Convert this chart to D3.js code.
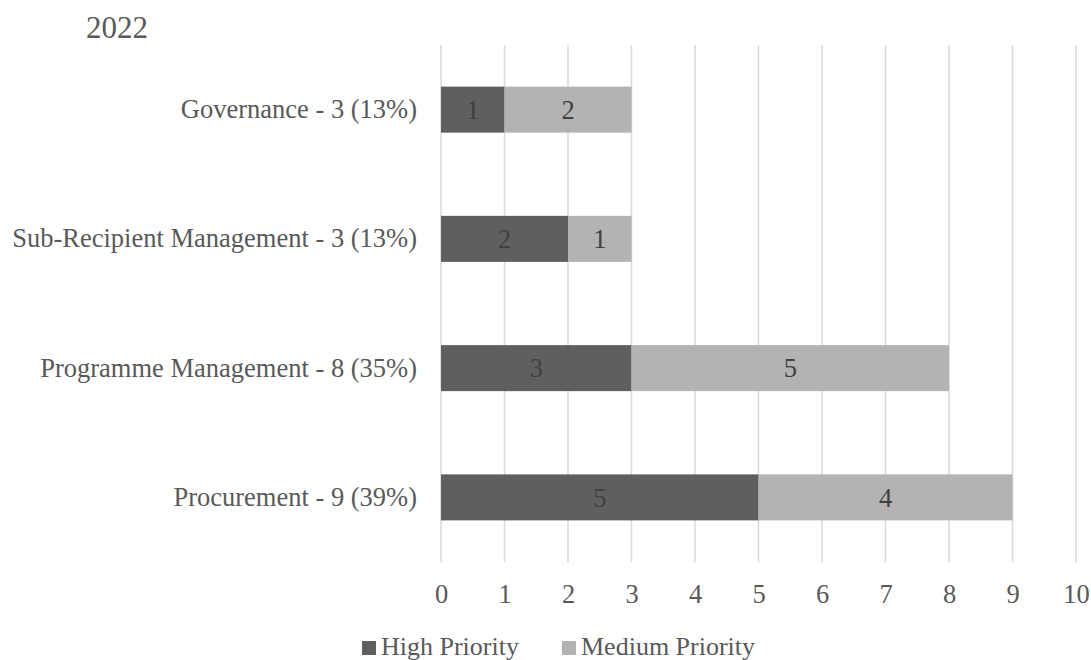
<!DOCTYPE html>
<html>
<head>
<meta charset="utf-8">
<script src="https://cdn.jsdelivr.net/npm/d3@7"></script>
<style>
  html, body { margin: 0; padding: 0; background: #ffffff; }
  svg text { font-family: "Liberation Serif", "Times New Roman", Tinos, serif !important; }
</style>
</head>
<body>
<svg id="chart" width="1091" height="660"></svg>
<script>
// Findings by area, split by priority
const categories = [
  "Governance - 3 (13%)",
  "Sub-Recipient Management - 3 (13%)",
  "Programme Management - 8 (35%)",
  "Procurement - 9 (39%)"
];
const highPriority = [1, 2, 3, 5];
const mediumPriority = [2, 1, 5, 4];
const seriesNames = ["High Priority", "Medium Priority"];
const xTicks = [0, 1, 2, 3, 4, 5, 6, 7, 8, 9, 10];
const chartTitle = "2022";

const colors = ["#5f5f5f", "#b3b3b3"];
const textColor = "#595959";
const labelSize = 26.5;

const svg = d3.select("#chart");
const margin = { left: 441, right: 15, top: 45, bottom: 98 };
const W = 1091, H = 660;

const x = d3.scaleLinear()
  .domain([0, 10])
  .range([margin.left, W - margin.right]);

const y = d3.scaleBand()
  .domain(categories)
  .range([margin.top, H - margin.bottom])
  .paddingInner(0.644)
  .paddingOuter(0.322);

// Stack the two series
const rows = categories.map((c, i) => ({ cat: c, high: highPriority[i], medium: mediumPriority[i] }));
const stacked = d3.stack().keys(["high", "medium"])(rows);

// Vertical gridlines
svg.append("g")
  .selectAll("line")
  .data(xTicks)
  .join("line")
  .attr("x1", d => x(d)).attr("x2", d => x(d))
  .attr("y1", margin.top).attr("y2", H - margin.bottom)
  .attr("stroke", "#d9d9d9")
  .attr("stroke-width", 1.5);

// X axis labels
const xAxis = d3.axisBottom(x).tickValues(xTicks).tickSize(0).tickFormat(d3.format("d"));
const xg = svg.append("g")
  .attr("transform", `translate(0,${H - margin.bottom})`)
  .call(xAxis);
xg.select(".domain").remove();
xg.selectAll("text")
  .attr("fill", textColor)
  .attr("font-size", labelSize)
  .attr("dy", 0)
  .attr("y", 41);

// Y axis labels
const yAxis = d3.axisLeft(y).tickSize(0).tickPadding(24);
const yg = svg.append("g")
  .attr("transform", `translate(${margin.left},0)`)
  .call(yAxis);
yg.select(".domain").remove();
yg.selectAll("text")
  .attr("fill", textColor)
  .attr("font-size", labelSize);

// Bars
const layers = svg.append("g")
  .selectAll("g")
  .data(stacked)
  .join("g")
  .attr("fill", (d, i) => colors[i]);

layers.selectAll("rect")
  .data(d => d)
  .join("rect")
  .attr("x", d => x(d[0]))
  .attr("width", d => x(d[1]) - x(d[0]))
  .attr("y", d => y(d.data.cat))
  .attr("height", y.bandwidth());

// Value labels
layers.selectAll("text")
  .data(d => d)
  .join("text")
  .attr("x", d => (x(d[0]) + x(d[1])) / 2)
  .attr("y", d => y(d.data.cat) + y.bandwidth() / 2)
  .attr("dy", "0.35em")
  .attr("text-anchor", "middle")
  .attr("font-size", labelSize)
  .attr("fill", "#404040")
  .text(d => d[1] - d[0]);

// Title
svg.append("text")
  .attr("x", 86)
  .attr("y", 38)
  .attr("font-size", 31)
  .attr("fill", textColor)
  .text(chartTitle);

// Legend
const legendX = [362, 562];
const legend = svg.append("g")
  .selectAll("g")
  .data(seriesNames)
  .join("g")
  .attr("transform", (d, i) => `translate(${legendX[i]},646)`);
legend.append("rect")
  .attr("x", 0).attr("y", -5)
  .attr("width", 14).attr("height", 14)
  .attr("fill", (d, i) => colors[i]);
legend.append("text")
  .attr("x", 19)
  .attr("dy", "0.35em")
  .attr("font-size", 26)
  .attr("fill", textColor)
  .text(d => d);
</script>
</body>
</html>
